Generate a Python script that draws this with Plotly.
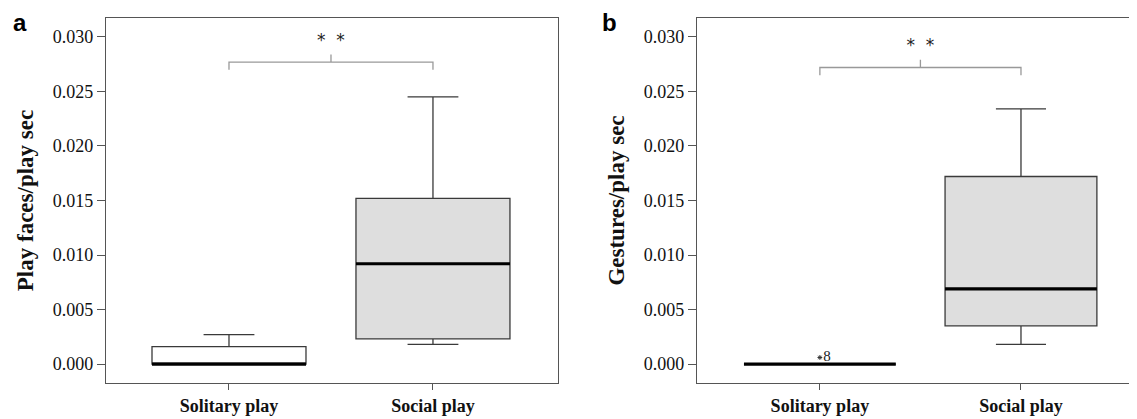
import plotly.graph_objects as go

categories = ["Solitary play", "Social play"]

# Panel a: Play faces/play sec
a_lower = [0.0, 0.0018]
a_q1 = [0.0, 0.0023]
a_median = [0.0, 0.0092]
a_q3 = [0.0016, 0.0152]
a_upper = [0.0027, 0.0245]
a_fill = ["#FFFFFF", "#DEDEDE"]

# Panel b: Gestures/play sec
b_lower = [0.0, 0.0018]
b_q1 = [0.0, 0.0035]
b_median = [0.0, 0.0069]
b_q3 = [0.0, 0.0172]
b_upper = [0.0, 0.0234]
b_fill = ["#FFFFFF", "#DEDEDE"]
b_outlier_x = [0]
b_outlier_y = [0.0006]
b_outlier_label = ["8"]

bracket_y = [0.0277, 0.0272]
signif = "*  *"

BOXW = 0.755
SERIF = "Liberation Serif"
W, H = 1137, 419
OFF = 8  # page body margin


def px(x):
    return (x - OFF) / W


def py(y):
    return 1 - (y - OFF) / H


fig = go.Figure()


def add_panel(lower, q1, med, q3, upper, fills, xa, ya):
    for i in range(len(categories)):
        fig.add_trace(go.Box(
            x=[i], lowerfence=[lower[i]], q1=[q1[i]], median=[med[i]], q3=[q3[i]],
            upperfence=[upper[i]], width=BOXW, whiskerwidth=0.33,
            fillcolor=fills[i], line=dict(color="#3a3a3a", width=1.3),
            boxpoints=False, showlegend=False, xaxis=xa, yaxis=ya, hoverinfo="skip"))
        fig.add_trace(go.Scatter(
            x=[i - BOXW / 2, i + BOXW / 2], y=[med[i], med[i]], mode="lines",
            line=dict(color="black", width=3.2), showlegend=False,
            xaxis=xa, yaxis=ya, hoverinfo="skip"))


def add_bracket(yb, xa, ya):
    d = 0.0007
    fig.add_trace(go.Scatter(
        x=[0, 0, 0.5, 0.5, 0.5, 1, 1], y=[yb - d, yb, yb, yb + d, yb, yb, yb - d],
        mode="lines", line=dict(color="#999999", width=1.3), showlegend=False,
        xaxis=xa, yaxis=ya, hoverinfo="skip"))
    fig.add_trace(go.Scatter(
        x=[0.5], y=[yb + 0.0019], mode="text", text=[signif],
        textfont=dict(family="DejaVu Sans", size=17, color="#222"), showlegend=False,
        xaxis=xa, yaxis=ya, hoverinfo="skip"))


add_panel(a_lower, a_q1, a_median, a_q3, a_upper, a_fill, "x", "y")
add_panel(b_lower, b_q1, b_median, b_q3, b_upper, b_fill, "x2", "y2")
add_bracket(bracket_y[0], "x", "y")
add_bracket(bracket_y[1], "x2", "y2")

fig.add_trace(go.Scatter(
    x=b_outlier_x, y=b_outlier_y, mode="markers+text", text=b_outlier_label,
    textposition="middle right", marker=dict(symbol="asterisk", size=4, color="#333",
                                             line=dict(width=1, color="#333")),
    textfont=dict(family=SERIF, size=15, color="#222"), showlegend=False,
    xaxis="x2", yaxis="y2", hoverinfo="skip"))

yticks = [0.0, 0.005, 0.010, 0.015, 0.020, 0.025, 0.030]
ytext = ["%.3f" % v for v in yticks]
yrange = [-0.00174, 0.03174]

common_x = dict(tickmode="array", tickvals=[0, 1], ticktext=categories,
                tickfont=dict(family=SERIF, size=18, color="#111", weight="bold"),
                showline=True, linecolor="#555", linewidth=1.2, mirror=True,
                ticks="outside", ticklen=6, tickcolor="#555", showgrid=False,
                zeroline=False, fixedrange=True)
common_y = dict(tickmode="array", tickvals=yticks, ticktext=ytext, range=yrange,
                tickfont=dict(family=SERIF, size=18, color="#111"),
                showline=True, linecolor="#555", linewidth=1.2, mirror=True,
                ticks="outside", ticklen=8, tickcolor="#555", showgrid=False,
                zeroline=False, domain=[py(383), py(18)])

fig.update_layout(
    width=W, height=H, margin=dict(l=0, r=0, t=0, b=0),
    paper_bgcolor="white", plot_bgcolor="white",
    xaxis=dict(common_x, domain=[px(106), px(558)], range=[-0.603, 1.613]),
    yaxis=dict(common_y, title=dict(text="Play faces/play sec", standoff=12,
               font=dict(family=SERIF, size=23, color="#111", weight="bold"))),
    xaxis2=dict(common_x, domain=[px(697), px(1135)], range=[-0.611, 1.567]),
    yaxis2=dict(common_y, title=dict(text="Gestures/play sec", standoff=12,
                font=dict(family=SERIF, size=23, color="#111", weight="bold"))),
    annotations=[
        dict(text="a", x=px(19.5), y=1, xref="paper", yref="paper",
             showarrow=False, xanchor="center", yanchor="top", borderpad=0,
             font=dict(family="Liberation Sans", size=24, color="black", weight="bold")),
        dict(text="b", x=px(609.5), y=1, xref="paper", yref="paper",
             showarrow=False, xanchor="center", yanchor="top", borderpad=0,
             font=dict(family="Liberation Sans", size=24, color="black", weight="bold")),
    ],
)
fig.update_layout(yaxis2_anchor="x2", xaxis2_anchor="y2")

fig.write_html("out.html")
